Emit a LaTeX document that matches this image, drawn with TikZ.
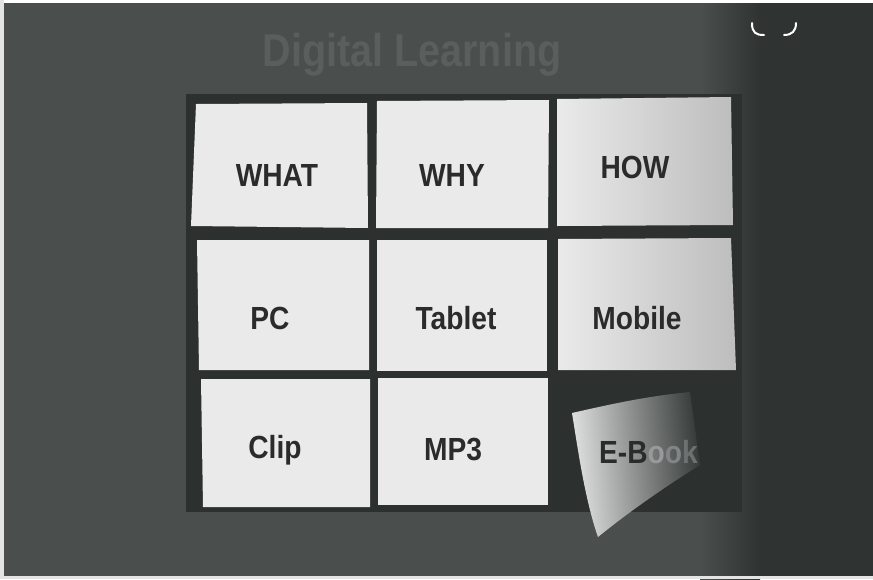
\documentclass[tikz,border=0pt]{standalone}
\usepackage{fontspec}
\setmainfont{Liberation Sans}
\definecolor{bgl}{HTML}{4A4F4E}
\definecolor{bgd}{HTML}{2F3433}
\definecolor{gapc}{HTML}{2C3130}
\definecolor{tilec}{HTML}{EAEAEA}
\definecolor{tiled}{HTML}{BDBDBD}
\definecolor{inkc}{HTML}{2B2B2B}
\definecolor{titlec}{HTML}{5A5F5E}
\tikzset{
  tile/.style={fill=tilec},
  tilefade/.style={left color=tilec, right color=tiled},
  lbl/.style={text=inkc, font=\bfseries\fontsize{32}{36}\selectfont, inner sep=0pt, xscale=0.88, anchor=base},
  ttl/.style={text=titlec, font=\bfseries\fontsize{46}{50}\selectfont, inner sep=0pt, xscale=0.86},
  cornermark/.style={draw=white, line width=2pt, line cap=round}
}
\begin{document}
\begin{tikzpicture}[x=1pt,y=-1pt]
\useasboundingbox (0,0) rectangle (873,579);
% background
\fill[bgl] (0,0) rectangle (700,579);
\shade[left color=bgl, right color=bgd] (700,0) rectangle (760,579);
\fill[bgd] (760,0) rectangle (873,579);
\fill[gapc] (186,94) rectangle (742,512);
\fill[white] (0,0) rectangle (873,3);
\fill[white!85!bgl] (0,0) rectangle (4,579);
\fill[white!85!bgl] (0,576) rectangle (873,579);
% title
\node[ttl] (title) at (412,55) {Digital Learning};
% marks top right
\draw[cornermark] (752,23) .. controls (752,33) and (756,35) .. (764,35);
\draw[cornermark] (784,35) .. controls (792,35) and (796,31) .. (796,23);
% tiles
\fill[tile] (196,104) -- (367,103) -- (368,228) -- (191,226) -- cycle;
\fill[tile] (377,101) -- (549,100) -- (548,228) -- (376,228) -- cycle;
\shade[tilefade] (557,99) -- (731,97) -- (733,225) -- (557,226) -- cycle;
\fill[tile] (197,240) -- (369,240) -- (369,370) -- (199,370) -- cycle;
\fill[tile] (377,240) -- (547,240) -- (547,371) -- (377,371) -- cycle;
\shade[tilefade] (558,239) -- (731,238) -- (736,370) -- (558,370) -- cycle;
\fill[tile] (201,379) -- (370,379) -- (370,507) -- (203,507) -- cycle;
\fill[tile] (378,378) -- (548,378) -- (548,505) -- (378,505) -- cycle;
% curling e-book tile
\begin{scope}
\clip (572,413) .. controls (620,402) and (650,396) .. (690,392) -- (700,465) .. controls (660,490) and (625,515) .. (598,537) .. controls (585,500) and (578,450) .. (572,413) -- cycle;
\shade[left color=tilec, middle color=white!55!bgd, right color=bgd, shading angle=95] (568,388) rectangle (704,540);
\node[lbl, anchor=base west] (ebook) at (599,463) {E-B\textcolor{white!50!bgd}{o}\textcolor{white!40!bgd}{o}\textcolor{white!30!bgd}{k}};
\end{scope}
% labels
\node[lbl] (what) at (277,186) {WHAT};
\node[lbl] (why) at (452,186) {WHY};
\node[lbl] (how) at (635,178) {HOW};
\node[lbl] (pc) at (270,329) {PC};
\node[lbl] (tablet) at (456,329) {Tablet};
\node[lbl] (mobile) at (637,329) {Mobile};
\node[lbl] (clip) at (275,458) {Clip};
\node[lbl] (mp3) at (453,460) {MP3};
\end{tikzpicture}
\end{document}
